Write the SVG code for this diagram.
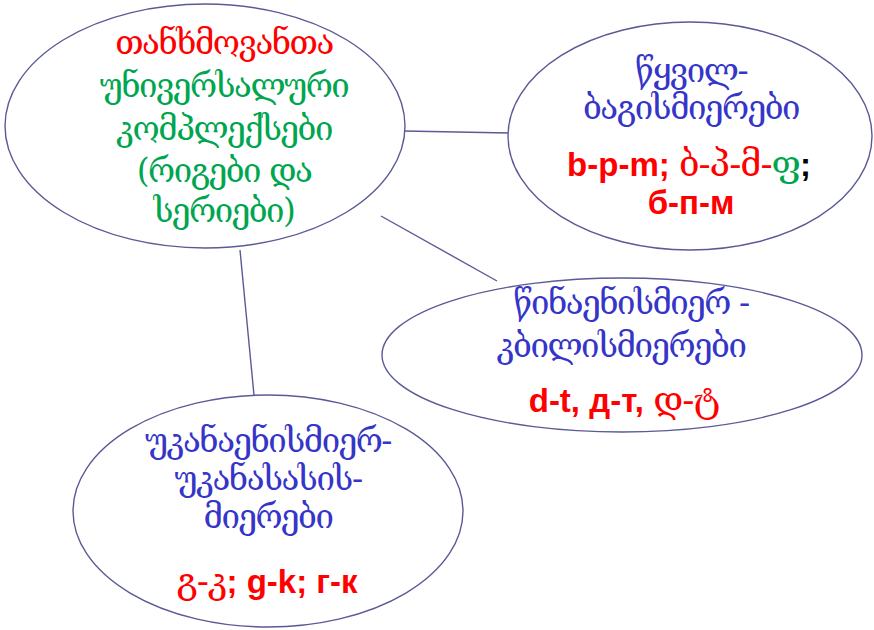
<svg xmlns="http://www.w3.org/2000/svg" width="874" height="630" viewBox="0 0 874 630">
<style>
.ell{fill:#ffffff;stroke:#5a5a96;stroke-width:1.4}
.con line{stroke:#5a5a96;stroke-width:1.4}
.ge{font-family:"DejaVu Serif","DejaVu Sans",serif;font-size:33px;letter-spacing:-1.5px;text-anchor:middle}
.gs{font-family:"DejaVu Serif","DejaVu Sans",serif;font-weight:normal;font-size:36px;letter-spacing:-1px}
.lat{font-family:"Liberation Sans",Arial,sans-serif;font-size:33px;font-weight:bold;text-anchor:middle}
.r{fill:#ff0000}.g{fill:#00a550}.b{fill:#3535c8}.k{fill:#000000}
</style>
<rect width="874" height="630" fill="#ffffff"/>
<g class="con">
<line x1="404" y1="131" x2="509" y2="133"/>
<line x1="381" y1="216" x2="497" y2="281"/>
<line x1="240" y1="250" x2="254" y2="395"/>
</g>
<g id="n1">
<ellipse class="ell" cx="205" cy="126" rx="200" ry="122"/>
<text class="ge r" x="224" y="54">თანხმოვანთა</text>
<text class="ge g" x="224" y="97">უნივერსალური</text>
<text class="ge g" x="224" y="140">კომპლექსები</text>
<text class="ge g" x="224" y="182">(რიგები და</text>
<text class="ge g" x="224" y="222">სერიები)</text>
</g>
<g id="n2">
<ellipse class="ell" cx="690" cy="136" rx="182" ry="114"/>
<text class="ge b" x="691" y="82">წყვილ-</text>
<text class="ge b" x="691" y="119">ბაგისმიერები</text>
<text class="lat" x="689" y="176"><tspan class="r">b-p-m; </tspan><tspan class="r gs">ბ-პ-მ-</tspan><tspan class="g gs">ფ</tspan><tspan class="k">;</tspan></text>
<text class="lat r" x="691" y="214">б-п-м</text>
</g>
<g id="n3">
<ellipse class="ell" cx="622" cy="355" rx="240" ry="77"/>
<text class="ge b" x="631" y="314">წინაენისმიერ -</text>
<text class="ge b" x="621" y="357">კბილისმიერები</text>
<text class="lat r" x="624" y="412">d-t, д-т, <tspan class="gs">დ-ტ</tspan></text>
</g>
<g id="n4">
<ellipse class="ell" cx="268" cy="511" rx="195" ry="116"/>
<text class="ge b" x="268" y="452">უკანაენისმიერ-</text>
<text class="ge b" x="268" y="490">უკანასასის-</text>
<text class="ge b" x="268" y="528">მიერები</text>
<text class="lat r" x="267" y="593"><tspan class="gs">გ-კ</tspan>; g-k; г-к</text>
</g>
</svg>
